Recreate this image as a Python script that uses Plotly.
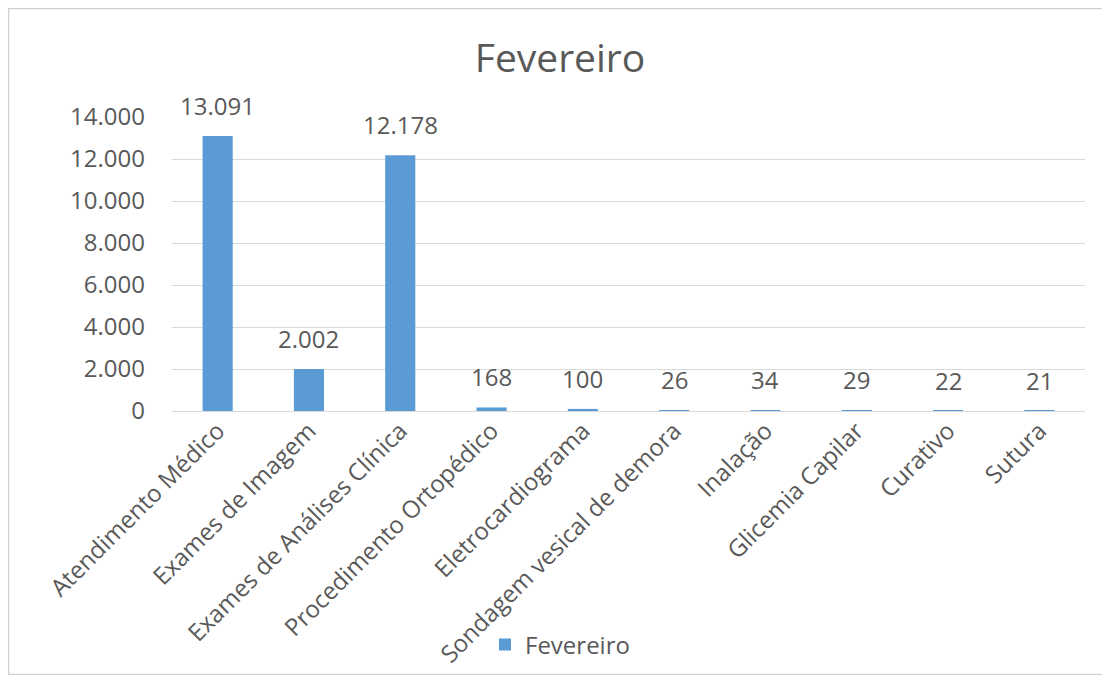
import plotly.graph_objects as go

categories = ["Atendimento Médico", "Exames de Imagem", "Exames de Análises Clínica",
              "Procedimento Ortopédico", "Eletrocardiograma", "Sondagem vesical de demora",
              "Inalação", "Glicemia Capilar", "Curativo", "Sutura"]
values = [13091, 2002, 12178, 168, 100, 26, 34, 29, 22, 21]
series_name = "Fevereiro"
y_ticks = [0, 2000, 4000, 6000, 8000, 10000, 12000, 14000]

FONT = "Open Sans"
TXT = "#595959"
BAR = "#5b9bd5"

# page body has an 8px margin; work in figure coordinates = reference - 8
OFF = 8
W, H = 1094, 667
L, R, T, B = 172 - OFF, 1085 - OFF, 117 - OFF, 411 - OFF
pw, ph = R - L, B - T

def px_x(x):
    return (x - OFF - L) / pw

def px_y(y):
    return (B - (y - OFF)) / ph

def fmt(v):
    return f"{v:,}".replace(",", ".")

fig = go.Figure(go.Bar(
    x=categories, y=values, name=series_name,
    marker=dict(color=BAR, line=dict(width=0)),
    width=0.33,
    cliponaxis=False,
    showlegend=True,
))

annotations = [dict(x=c, y=v, xref="x", yref="y", text=fmt(v), showarrow=False,
                    yanchor="bottom", yshift=12,
                    font=dict(family=FONT, size=24, color=TXT))
               for c, v in zip(categories, values)]

fig.update_layout(
    width=W, height=H,
    margin=dict(l=L, r=W - R, t=T, b=H - B, autoexpand=False),
    paper_bgcolor="white", plot_bgcolor="white",
    separators=",.",
    font=dict(family=FONT, color=TXT),
    title=dict(text="Fevereiro", x=(560 - OFF) / W, xanchor="center",
               y=1 - (58 - OFF) / H, yanchor="middle",
               font=dict(family=FONT, size=39, color=TXT)),
    xaxis=dict(tickangle=-45, tickfont=dict(family=FONT, size=24, color=TXT),
               showgrid=False, showline=False, ticks="", range=[-0.5, 9.5]),
    yaxis=dict(range=[0, 14000], tickvals=y_ticks, tickformat=",d",
               tickfont=dict(family=FONT, size=24, color=TXT),
               showgrid=True, gridcolor="#d9d9d9", gridwidth=1,
               zeroline=True, zerolinecolor="#d9d9d9", zerolinewidth=1,
               showline=False, ticks="", ticklen=0, ticklabelstandoff=26),
    legend=dict(orientation="h", x=px_x(485), xanchor="left", y=px_y(645), yanchor="middle",
                font=dict(family=FONT, size=24, color=TXT), bgcolor="rgba(0,0,0,0)",
                itemwidth=30),
    annotations=annotations,
    shapes=[dict(type="rect", xref="paper", yref="paper",
                 x0=px_x(8.5), x1=px_x(1104), y0=px_y(674.5), y1=px_y(8.5),
                 line=dict(color="#d0d0d0", width=1.5), layer="below")],
)

fig.write_html("out.html")
